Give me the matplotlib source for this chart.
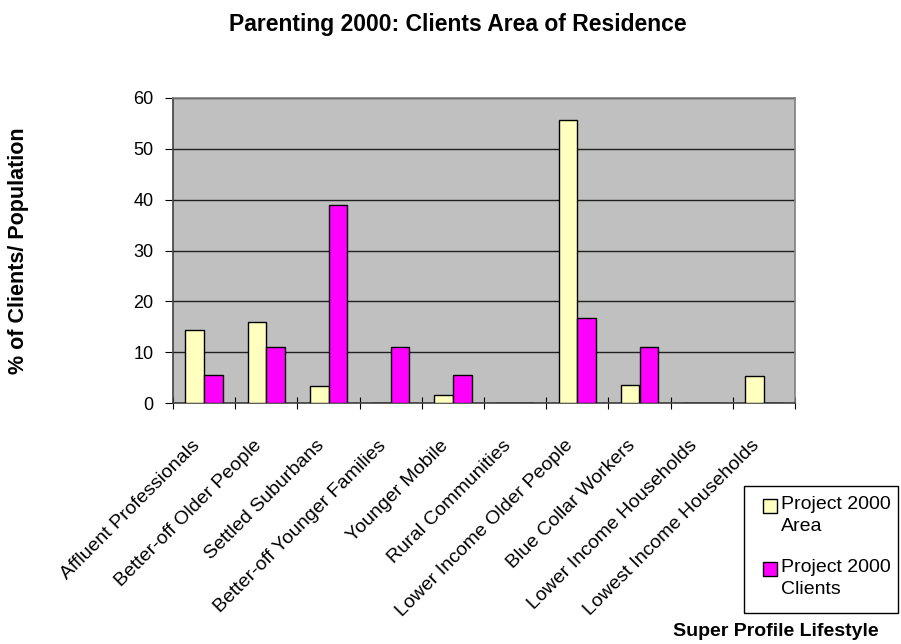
import matplotlib
matplotlib.use("Agg")
import matplotlib.pyplot as plt
from matplotlib.patches import Rectangle
from matplotlib.transforms import ScaledTranslation, blended_transform_factory
import numpy as np

categories = ["Affluent Professionals", "Better-off Older People", "Settled Suburbans",
              "Better-off Younger Families", "Younger Mobile", "Rural Communities",
              "Lower Income Older People", "Blue Collar Workers", "Lower Income Households",
              "Lowest Income Households"]
area = [14.3, 16.0, 3.3, 0, 1.6, 0, 55.6, 3.5, 0, 5.3]
clients = [5.6, 11.1, 38.9, 11.1, 5.6, 0, 16.7, 11.1, 0, 0]
series_names = ["Project 2000\nArea", "Project 2000\nClients"]
series_colors = ['#FFFFC0', '#FF00FF']
yticks = [0, 10, 20, 30, 40, 50, 60]

plt.rcParams['font.family'] = ['Liberation Sans', 'DejaVu Sans']

W, H = 901, 644
fig = plt.figure(figsize=(W/100, H/100), dpi=100)
ax = fig.add_axes([173/W, 1-403/H, (795-173)/W, (403-98)/H])
ax.set_facecolor('#C0C0C0')

x = np.arange(len(categories))
w = 0.3
b1 = ax.bar(x - w/2, area, w, color=series_colors[0], edgecolor='black', linewidth=1.0, zorder=3)
b2 = ax.bar(x + w/2, clients, w, color=series_colors[1], edgecolor='black', linewidth=1.0, zorder=3)

ax.set_xlim(-0.5, len(categories) - 0.5)
ax.set_ylim(0, 60)
ax.set_yticks(yticks)
ax.set_yticklabels([str(t) for t in yticks], fontsize=13)
ax.yaxis.grid(True, color='#202020', linewidth=1.0, zorder=1)
ax.set_axisbelow(True)

# category boundary ticks; category names drawn as rotated labels at category centres
ax.set_xticks(np.arange(-0.5, len(categories)))
ax.set_xticklabels([])
ax.tick_params(axis='x', length=9, direction='inout', color='black')
ax.tick_params(axis='y', length=6, direction='out', color='black', pad=8)

lab_tr = blended_transform_factory(ax.transData, ax.transAxes) + \
    ScaledTranslation(-13/100, -34/100, fig.dpi_scale_trans)
for xi, cat in zip(x, categories):
    ax.text(xi, 0, cat, transform=lab_tr, rotation=45, ha='right', va='top',
            rotation_mode='anchor', fontsize=14, clip_on=False)

for s in ['top', 'right']:
    ax.spines[s].set_color('#808080')
    ax.spines[s].set_linewidth(1.2)
for s in ['left', 'bottom']:
    ax.spines[s].set_color('#404040')
    ax.spines[s].set_linewidth(1.2)

fig.text(458/W, 1-25/H, "Parenting 2000: Clients Area of Residence", ha='center', va='center',
         fontsize=16.5, fontweight='bold')
fig.text(19/W, 1-251/H, "% of Clients/ Population", ha='center', va='center', rotation=90,
         fontsize=15.5, fontweight='bold')
fig.text(879/W, 1-631/H, "Super Profile Lifestyle", ha='right', va='center',
         fontsize=14, fontweight='bold')

# legend (manual, to match the multi-line layout)
fig.add_artist(Rectangle((744/W, 1-613/H), (898-744)/W, (613-486)/H, transform=fig.transFigure,
                         facecolor='white', edgecolor='black', linewidth=1.0))
for i, (name, col) in enumerate(zip(series_names, series_colors)):
    ytop = 499 + i * 63
    fig.add_artist(Rectangle((763/W, 1-(ytop+14)/H), 14/W, 14/H, transform=fig.transFigure,
                             facecolor=col, edgecolor='black', linewidth=1.0))
    fig.text(781/W, 1-(ytop-3)/H, name, ha='left', va='top', fontsize=14, linespacing=1.4)

fig.savefig("out.png", dpi=100)
